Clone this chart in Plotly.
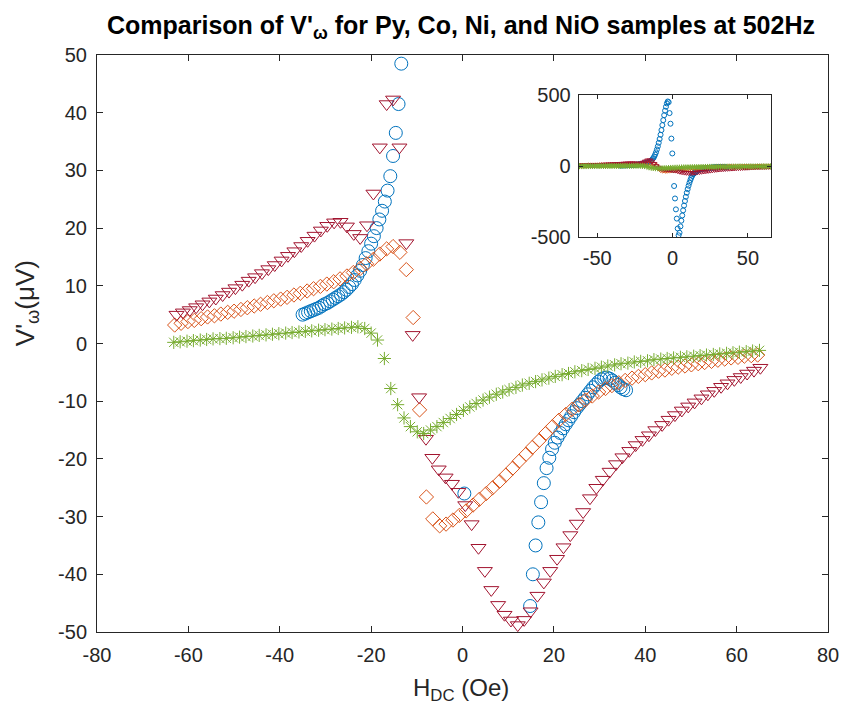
import plotly.graph_objects as go

# ---------------- data ----------------
py_h = [-35.0, -34.4, -33.8, -33.2, -32.6, -32.0, -31.4, -30.8, -30.2, -29.6,
        -29.0, -28.4, -27.8, -27.2, -26.6, -26.0, -25.4, -24.8, -24.2, -23.6,
        -23.0, -22.4, -21.8, -21.2, -20.6, -20.0, -19.4, -18.8, -18.2, -17.6,
        -17.0, -16.4, -15.8, -15.2, -14.6, -14.0, -13.4, -12.8, -12.2, -11.6,
        -11.0, -10.4, -9.8, -9.2, -8.6, -8.0, -7.4, -6.8, -6.2, -5.6,
        -5.0, -4.4, -3.8, -3.2, -2.6, -2.0, -1.4, -0.8, -0.2, 0.4,
        1.0, 1.6, 2.2, 2.8, 3.4, 4.0, 4.6, 5.2, 5.8, 6.4,
        7.0, 7.6, 8.2, 8.8, 9.4, 10.0, 10.6, 11.2, 11.8, 12.4,
        13.0, 13.6, 14.2, 14.8, 15.4, 16.0, 16.6, 17.2, 17.8, 18.4,
        19.0, 19.6, 20.2, 20.8, 21.4, 22.0, 22.6, 23.2, 23.8, 24.4,
        25.0, 25.6, 26.2, 26.8, 27.4, 28.0, 28.6, 29.2, 29.8, 30.4,
        31.0, 31.6, 32.2, 32.8, 33.4, 34.0, 34.6, 35.2, 35.8]
py_v = [5.0, 5.2, 5.4, 5.6, 5.8, 6.0, 6.2, 6.5, 6.8, 7.0,
        7.3, 7.6, 7.9, 8.2, 8.5, 8.9, 9.3, 9.8, 10.3, 11.0,
        11.8, 12.6, 13.6, 14.8, 16.0, 17.3, 18.6, 20.0, 21.5, 23.0,
        24.6, 26.5, 29.0, 32.5, 36.5, 41.5, 48.5, 57, 68, 82,
        98, 118, 140, 165, 192, 222, 255, 290, 325, 360,
        392, 420, 443, 457, 452, 375, 300, 195, 90, -26,
        -140, -228, -305, -370, -440, -488, -470, -425, -385, -348,
        -312, -278, -246, -216, -188, -162, -138, -117, -98, -82,
        -68, -57, -51.8, -45.5, -40.0, -35.0, -31.0, -27.5, -24.2, -21.6,
        -19.8, -18.3, -17.2, -16.3, -15.5, -14.7, -14.0, -13.3, -12.6, -11.9,
        -11.2, -10.6, -10.0, -9.4, -8.8, -8.2, -7.6, -7.1, -6.6, -6.2,
        -6.0, -5.9, -6.1, -6.4, -6.8, -7.2, -7.6, -7.9, -8.1]

co_h = [-63.0, -61.6, -60.1, -58.7, -57.2, -55.8, -54.3, -52.9, -51.4, -50.0,
        -48.5, -47.1, -45.6, -44.2, -42.7, -41.3, -39.8, -38.4, -36.9, -35.5,
        -34.0, -32.6, -31.1, -29.7, -28.2, -26.8, -25.3, -23.9, -22.4, -21.0,
        -19.5, -18.1, -16.6, -15.2, -13.7, -12.3, -10.8, -9.4, -7.9, -6.5,
        -5.0, -3.6, -2.1, -0.7, 0.8, 2.3, 3.7, 5.2, 6.6, 8.1,
        9.5, 11.0, 12.4, 13.9, 15.3, 16.8, 18.2, 19.7, 21.1, 22.6,
        24.0, 25.5, 26.9, 28.4, 29.8, 31.3, 32.7, 34.2, 35.6, 37.1,
        38.5, 40.0, 41.4, 42.9, 44.3, 45.8, 47.2, 48.7, 50.1, 51.6,
        53.0, 54.5, 55.9, 57.4, 58.8, 60.3, 61.7, 63.2, 64.6]
co_v = [3.2, 3.5, 3.8, 4.0, 4.3, 4.6, 4.8, 5.1, 5.4, 5.6,
        5.9, 6.2, 6.5, 6.8, 7.1, 7.4, 7.7, 8.0, 8.4, 8.7,
        9.1, 9.5, 9.9, 10.3, 10.7, 11.2, 11.7, 12.3, 13.0, 13.8,
        14.6, 15.5, 16.4, 16.8, 15.8, 12.8, 4.5, -11.5, -26.6, -30.4,
        -31.6, -31.3, -30.6, -29.8, -29.0, -28.0, -27.0, -26.0, -25.0, -23.9,
        -22.8, -21.6, -20.4, -19.2, -18.0, -16.8, -15.6, -14.4, -13.3, -12.3,
        -11.4, -10.6, -9.8, -9.1, -8.4, -7.8, -7.3, -6.8, -6.4, -6.0,
        -5.7, -5.4, -5.1, -4.8, -4.6, -4.3, -4.1, -3.9, -3.7, -3.5,
        -3.3, -3.1, -2.9, -2.7, -2.5, -2.4, -2.2, -2.1, -2.0]

ni_h = [-62.6, -61.2, -59.7, -58.3, -56.9, -55.4, -54.0, -52.5, -51.1, -49.7,
        -48.2, -46.8, -45.4, -43.9, -42.5, -41.1, -39.6, -38.2, -36.8, -35.3,
        -33.9, -32.4, -31.0, -29.6, -28.1, -26.7, -25.3, -23.8, -22.4, -20.9,
        -19.5, -18.1, -16.6, -15.2, -13.8, -12.3, -10.9, -9.5, -8.0, -6.6,
        -5.2, -3.7, -2.3, -0.9, 0.6, 2.0, 3.5, 4.9, 6.3, 7.8,
        9.2, 10.6, 12.1, 13.5, 14.9, 16.4, 17.8, 19.2, 20.7, 22.1,
        23.6, 25.0, 26.4, 27.9, 29.3, 30.7, 32.2, 33.6, 35.0, 36.5,
        37.9, 39.4, 40.8, 42.2, 43.7, 45.1, 46.5, 48.0, 49.4, 50.8,
        52.3, 53.7, 55.1, 56.6, 58.0, 59.5, 60.9, 62.3, 63.8, 65.2]
ni_v = [5.0, 5.4, 5.8, 6.3, 6.8, 7.3, 7.8, 8.4, 9.0, 9.6,
        10.2, 10.9, 11.5, 12.2, 12.9, 13.6, 14.4, 15.2, 16.0, 16.9,
        17.8, 18.7, 19.6, 20.4, 21.0, 21.1, 20.3, 19.0, 18.3, 20.5,
        26.0, 34.0, 41.5, 42.3, 34.0, 17.4, 1.5, -9.3, -16.5, -19.8,
        -21.8, -23.2, -24.3, -25.7, -28.0, -31.3, -35.4, -39.4, -42.7, -45.3,
        -47.0, -48.0, -48.8, -47.9, -46.4, -43.7, -41.4, -39.4, -37.3, -35.3,
        -33.2, -31.2, -29.2, -26.8, -25.0, -23.6, -22.2, -20.9, -19.7, -18.6,
        -17.6, -16.7, -15.9, -15.0, -14.1, -13.2, -12.4, -11.6, -10.9, -10.2,
        -9.5, -8.8, -8.2, -7.5, -6.9, -6.3, -5.8, -5.2, -4.7, -4.2]

nio_h = [-63.2, -61.8, -60.3, -58.9, -57.4, -56.0, -54.6, -53.1, -51.7, -50.2,
         -48.8, -47.4, -45.9, -44.5, -43.0, -41.6, -40.2, -38.7, -37.3, -35.8,
         -34.4, -33.0, -31.5, -30.1, -28.6, -27.2, -25.8, -24.3, -22.9, -21.4,
         -20.0, -18.6, -17.1, -15.7, -14.2, -12.8, -11.4, -9.9, -8.5, -7.0,
         -5.6, -4.2, -2.7, -1.3, 0.2, 1.6, 3.0, 4.5, 5.9, 7.4,
         8.8, 10.2, 11.7, 13.1, 14.6, 16.0, 17.4, 18.9, 20.3, 21.8,
         23.2, 24.6, 26.1, 27.5, 29.0, 30.4, 31.8, 33.3, 34.7, 36.2,
         37.6, 39.0, 40.5, 41.9, 43.4, 44.8, 46.2, 47.7, 49.1, 50.6,
         52.0, 53.4, 54.9, 56.3, 57.8, 59.2, 60.6, 62.1, 63.5, 65.0]
nio_v = [0.2, 0.3, 0.4, 0.5, 0.6, 0.7, 0.8, 0.85, 0.9, 1.0,
         1.1, 1.2, 1.3, 1.4, 1.5, 1.6, 1.7, 1.8, 1.9, 2.0,
         2.1, 2.2, 2.3, 2.4, 2.5, 2.6, 2.7, 2.8, 2.9, 2.6,
         1.8, 0.6, -2.6, -7.8, -10.6, -12.9, -14.4, -15.3, -15.6, -15.0,
         -14.4, -13.7, -13.0, -12.3, -11.6, -11.0, -10.4, -9.8, -9.3, -8.8,
         -8.4, -8.0, -7.6, -7.2, -6.9, -6.6, -6.3, -6.0, -5.7, -5.4,
         -5.2, -4.9, -4.7, -4.5, -4.3, -4.1, -3.9, -3.7, -3.5, -3.4,
         -3.2, -3.1, -3.0, -2.8, -2.7, -2.6, -2.5, -2.4, -2.3, -2.2,
         -2.1, -2.0, -1.9, -1.8, -1.7, -1.6, -1.5, -1.4, -1.3, -1.2]

x_ticks = [-80, -60, -40, -20, 0, 20, 40, 60, 80]
y_ticks = [-50, -40, -30, -20, -10, 0, 10, 20, 30, 40, 50]
inset_x_ticks = [-50, 0, 50]
inset_y_ticks = [-500, 0, 500]

# ---------------- styles ----------------
series = [
    ("Py", py_h, py_v, "#0072BD", "circle-open", 13, 5),
    ("Co", co_h, co_v, "#D95319", "diamond-open", 11, 4),
    ("Ni", ni_h, ni_v, "#A2142F", "triangle-down-open", 13, 5),
    ("NiO", nio_h, nio_v, "#77AC30", "asterisk-open", 11, 5),
]

FONT = "Liberation Sans, Arial, Helvetica, sans-serif"
AX = "#262626"


def tick_text(vals):
    return [str(v) for v in vals]  # plain hyphen minus, as in the reference


fig = go.Figure()
for name, h, v, col, sym, sz, sz_in in series:
    fig.add_trace(go.Scatter(
        x=h, y=v, mode="markers", name=name, showlegend=False,
        marker=dict(symbol=sym, size=sz, color=col,
                    line=dict(color=col, width=1)),
        xaxis="x", yaxis="y"))
for name, h, v, col, sym, sz, sz_in in series:
    fig.add_trace(go.Scatter(
        x=h, y=v, mode="markers", name=name + " (inset)", showlegend=False,
        marker=dict(symbol=sym, size=sz_in, color=col,
                    line=dict(color=col, width=1)),
        xaxis="x2", yaxis="y2"))

axis_common = dict(
    showgrid=False, zeroline=False, showline=True, linecolor=AX, linewidth=1,
    mirror="ticks", ticks="inside", tickcolor=AX, tickwidth=1,
    tickfont=dict(family=FONT, size=20, color=AX),
)

fig.update_layout(
    width=851, height=713,
    margin=dict(l=97, r=18, t=55, b=81),
    paper_bgcolor="white", plot_bgcolor="white",
    font=dict(family=FONT, color=AX),
    xaxis=dict(range=[-80, 80], tickvals=x_ticks, ticktext=tick_text(x_ticks),
               ticklen=6, ticklabelstandoff=5, domain=[0, 1], anchor="y",
               **axis_common),
    yaxis=dict(range=[-50, 50], tickvals=y_ticks, ticktext=tick_text(y_ticks),
               ticklen=6, ticklabelstandoff=5, domain=[0, 1], anchor="x",
               **axis_common),
    xaxis2=dict(range=[-62.3, 65.3], tickvals=inset_x_ticks,
                ticktext=tick_text(inset_x_ticks), ticklen=4,
                ticklabelstandoff=3, domain=[0.659, 0.922], anchor="y2",
                **axis_common),
    yaxis2=dict(range=[-500, 500], tickvals=inset_y_ticks,
                ticktext=tick_text(inset_y_ticks), ticklen=4,
                ticklabelstandoff=3, domain=[0.6846, 0.930], anchor="x2",
                **axis_common),
    annotations=[
        dict(text="<b>Comparison of V'<sub>ω</sub> for Py, Co, Ni, and NiO samples at 502Hz</b>",
             xref="paper", yref="paper", x=0.4976, y=1.048, showarrow=False,
             xanchor="center", yanchor="middle",
             font=dict(family=FONT, size=25, color="black")),
        dict(text="H<sub>DC</sub> (Oe)", xref="paper", yref="paper",
             x=0.4976, y=-0.1005, showarrow=False, xanchor="center",
             yanchor="middle", font=dict(family=FONT, size=24, color=AX)),
        dict(text="V'<sub>ω</sub>(μV)", xref="paper", yref="paper",
             x=-0.097, y=0.57, showarrow=False, textangle=-90,
             xanchor="center", yanchor="middle",
             font=dict(family=FONT, size=26, color=AX)),
    ],
)

fig.write_html("out.html")
